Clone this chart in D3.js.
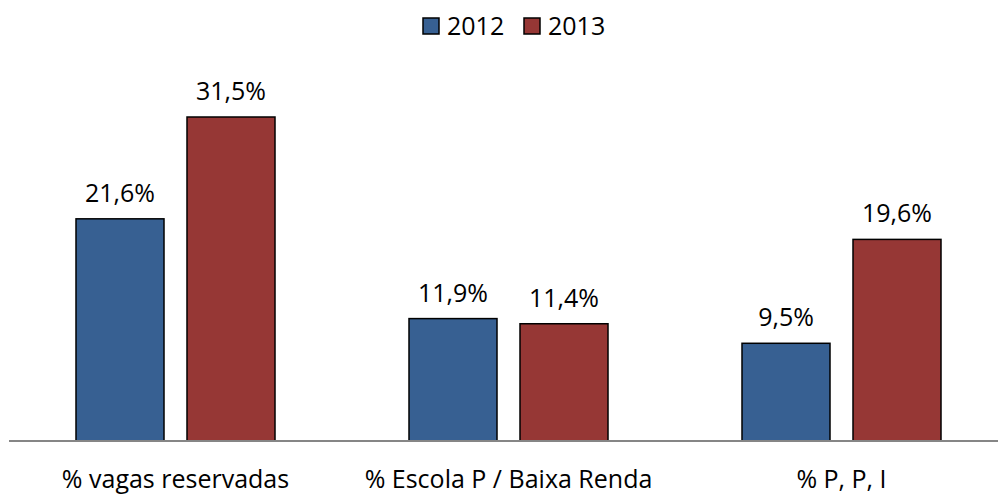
<!DOCTYPE html>
<html><head><meta charset="utf-8">
<script src="https://cdn.jsdelivr.net/npm/d3@7"></script>
<style>body{margin:0;background:#fff}svg{display:block}text{font-family:"Open Sans","Noto Sans",sans-serif;fill:#000}</style>
</head><body><svg id="c" width="998" height="495"></svg>
<script>
const categories = ["% vagas reservadas", "% Escola P / Baixa Renda", "% P, P, I"];
const seriesNames = ["2012", "2013"];
const values2012 = [21.6, 11.9, 9.5];
const values2013 = [31.5, 11.4, 19.6];
const colors = ["#376092", "#963735"];

const svg = d3.select("#c");
const base = 441;
const FS = 25;
const x0 = d3.scaleBand().domain(categories).range([9, 1008]).paddingInner(0).paddingOuter(0);
const x1 = d3.scaleBand().domain(seriesNames).range([x0.bandwidth()/2 - 99.5, x0.bandwidth()/2 + 99.5]).paddingInner(23/111).paddingOuter(0);
const y = d3.scaleLinear().domain([0, 31.5]).range([base, 117]);
const fmt = v => d3.format(".1f")(v).replace(".", ",") + "%";

const data = categories.map((c, i) => ({c, vals: [values2012[i], values2013[i]]}));
const g = svg.selectAll("g.cat").data(data).join("g").attr("transform", d => `translate(${x0(d.c)},0)`);
g.selectAll("rect").data(d => d.vals.map((v, j) => ({s: seriesNames[j], v, j}))).join("rect")
  .attr("x", d => x1(d.s)).attr("width", x1.bandwidth())
  .attr("y", d => y(d.v)).attr("height", d => base - y(d.v))
  .attr("fill", d => colors[d.j]).attr("stroke", "#000").attr("stroke-width", 1.5);
g.selectAll("text.val").data(d => d.vals.map((v, j) => ({s: seriesNames[j], v, j}))).join("text")
  .attr("class", "val").attr("x", d => x1(d.s) + x1.bandwidth()/2).attr("y", d => y(d.v) - 17)
  .attr("text-anchor", "middle").attr("font-size", FS).text(d => fmt(d.v));

svg.append("line").attr("x1", 9).attr("x2", 998).attr("y1", base).attr("y2", base)
  .attr("stroke", "#868686").attr("stroke-width", 2);

const xAxis = d3.axisBottom(x0).tickSize(0).tickPadding(0);
const ax = svg.append("g").attr("transform", `translate(0,${base})`).call(xAxis);
ax.select(".domain").remove();
ax.selectAll("text").attr("font-size", FS).attr("dy", 0).attr("y", 47).style("font-family", '"Open Sans","Noto Sans",sans-serif').attr("fill", "#000");

const legend = svg.append("g");
const lx = [423, 524];
seriesNames.forEach((s, i) => {
  legend.append("rect").attr("x", lx[i]).attr("y", 18).attr("width", 16).attr("height", 16)
    .attr("fill", colors[i]).attr("stroke", "#000").attr("stroke-width", 1.5);
  legend.append("text").attr("x", lx[i] + 24).attr("y", 35).attr("font-size", FS).text(s);
});
</script></body></html>
